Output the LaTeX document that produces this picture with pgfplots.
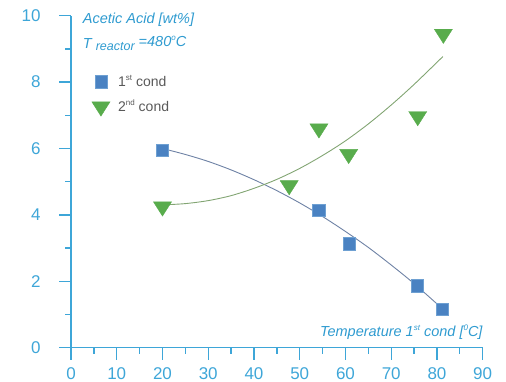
\documentclass[border=0pt]{standalone}
\usepackage{pgfplots}
\pgfplotsset{compat=1.18}
\usepackage{fontspec}
\setmainfont{Liberation Sans}
\definecolor{axcol}{RGB}{62,166,216}
\definecolor{labcol}{RGB}{47,155,208}
\definecolor{sqfill}{RGB}{74,130,194}
\definecolor{sqdraw}{RGB}{110,160,210}
\definecolor{trifill}{RGB}{88,172,76}
\definecolor{bline}{RGB}{110,130,165}
\definecolor{gline}{RGB}{130,165,115}
\definecolor{legtext}{RGB}{89,89,89}
\newcommand\sups[1]{\raisebox{0.42em}{\fontsize{8}{9}\selectfont #1}}
\begin{document}
\begin{tikzpicture}
\useasboundingbox (0,0) rectangle (506pt,382pt);
\begin{axis}[
  at={(71pt,34.3pt)}, anchor=south west,
  scale only axis, width=411.7pt, height=332pt,
  xmin=0, xmax=90, ymin=0, ymax=10,
  axis x line=bottom, axis y line=left,
  axis line style={-, draw=axcol, line width=1.6pt},
  xtick distance=10, ytick distance=2,
  minor x tick num=1, minor y tick num=1,
  tick align=outside,
  major tick length=12pt, minor tick length=6pt,
  every tick/.style={draw=axcol, line width=1.3pt},
  every minor tick/.style={draw=axcol, line width=1.3pt},
  tick label style={font=\fontsize{17}{19}\selectfont, text=axcol},
  yticklabel style={xshift=-15pt},
  xticklabel style={yshift=-4.5pt},
  /pgf/number format/assume math mode=true,
  clip=false,
  legend style={draw=none, fill=none, inner sep=0pt,
    at={(rel axis cs:0.0503,0.8265)}, anchor=north west,
    font=\fontsize{14}{16}\selectfont, text=legtext,
    row sep=8pt},
  legend cell align=left,
  legend image code/.code={\draw[#1] plot coordinates {(8pt,0pt)}; \path (0pt,0pt) (23pt,0pt);},
]
% fitted trend curves
\addplot[bline, line width=0.9pt, smooth, no marks, forget plot] coordinates {
 (20,6.00) (25,5.82) (30,5.61) (35,5.355) (40,5.06) (45,4.73) (50,4.36)
 (55,3.95) (60,3.50) (65,3.02) (70,2.49) (75,1.93) (81.3,1.16)};
\addplot[gline, line width=0.9pt, smooth, no marks, forget plot] coordinates {
 (20,4.30) (25,4.34) (30,4.43) (35,4.58) (40,4.80) (45,5.07) (50,5.40)
 (55,5.79) (60,6.23) (65,6.74) (70,7.31) (75,7.93) (81.3,8.77)};
\addplot[only marks, mark=square*, mark size=6.15pt,
  mark options={fill=sqfill, draw=sqdraw, line width=0.6pt}] coordinates {
 (20,5.95) (54.2,4.14) (60.8,3.13) (75.7,1.86) (81.2,1.15)};
\addlegendentry{1\sups{st} cond}
\addplot[only marks, mark=triangle*, mark size=9.5pt,
  mark options={rotate=180, xscale=1.1, fill=trifill, draw=trifill}] coordinates {
 (20,4.25) (47.7,4.89) (54.2,6.6) (60.7,5.83) (75.8,6.97) (81.4,9.45)};
\addlegendentry{2\sups{nd} cond}
\end{axis}
\node[anchor=base west, inner sep=0pt, text=labcol, font=\fontsize{14.5}{17}\selectfont\itshape]
  at (82.7pt,358.5pt) {Acetic Acid [wt\%]};
\node[anchor=base west, inner sep=0pt, text=labcol, font=\fontsize{14.5}{17}\selectfont\itshape]
  at (82.7pt,335.3pt) {\raisebox{-1.6pt}{T} \raisebox{-4.3pt}{\fontsize{12.5}{14}\selectfont reactor} =480\sups{o}C};
\node[anchor=base east, inner sep=0pt, text=labcol, font=\fontsize{14.5}{17}\selectfont\itshape]
  at (482.7pt,45.3pt) {Temperature 1\sups{st} cond [\sups{0}C]};
\end{tikzpicture}
\end{document}
